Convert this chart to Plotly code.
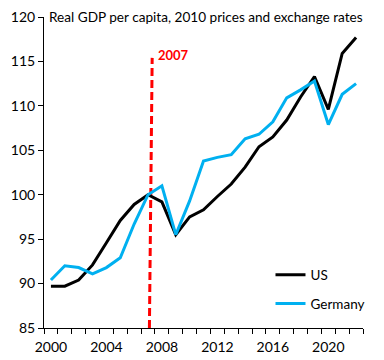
import plotly.graph_objects as go

years = list(range(2000, 2023))
us = [89.7, 89.7, 90.4, 92.1, 94.6, 97.1, 98.9, 100.0, 99.2, 95.5, 97.5, 98.3,
      99.8, 101.2, 103.1, 105.4, 106.5, 108.4, 111.0, 113.3, 109.6, 115.9, 117.7]
germany = [90.4, 92.0, 91.8, 91.1, 91.8, 92.9, 96.7, 100.0, 101.0, 95.5, 99.3, 103.8,
           104.2, 104.5, 106.3, 106.8, 108.2, 110.9, 111.8, 112.8, 107.9, 111.3, 112.5]
crisis_x = [2007.1, 2007.3]
crisis_y = [85, 115.4]
crisis_label = "2007"
xtick_vals = [2000, 2004, 2008, 2012, 2016, 2020]
ytick_vals = [85, 90, 95, 100, 105, 110, 115, 120]
title = "Real GDP per capita, 2010 prices and exchange rates"

FONT = "Lato, Carlito, 'Open Sans', sans-serif"

fig = go.Figure()
fig.add_trace(go.Scatter(x=crisis_x, y=crisis_y, mode="lines", showlegend=False,
                         line=dict(color="#FF0000", width=3, dash="8px,4px"),
                         hoverinfo="skip"))
fig.add_trace(go.Scatter(x=years, y=us, mode="lines", name="US", legendgroup="us",
                         line=dict(color="#000000", width=3)))
fig.add_trace(go.Scatter(x=years, y=germany, mode="lines", name="Germany", legendgroup="de",
                         line=dict(color="#00B0F0", width=3)))

fig.add_annotation(text=crisis_label, x=crisis_x[1], y=crisis_y[1], xref="x", yref="y",
                   xanchor="left", yanchor="middle", xshift=4, yshift=3, showarrow=False,
                   font=dict(family=FONT, size=13, color="#FF0000", weight="bold"))
fig.add_annotation(text=title, x=0, y=1, xref="paper", yref="paper", xanchor="left",
                   yanchor="middle", xshift=3, showarrow=False,
                   font=dict(family=FONT, size=13.6, color="#000000"))

fig.update_layout(
    template="none",
    width=376, height=352,
    margin=dict(l=36, r=21, t=9, b=32),
    paper_bgcolor="white", plot_bgcolor="white",
    font=dict(family=FONT, size=14, color="#000000"),
    legend=dict(x=0.71, y=0.22, xanchor="left", yanchor="top",
                font=dict(family=FONT, size=13.5, color="#000000"),
                tracegroupgap=8, bgcolor="rgba(0,0,0,0)"),
    xaxis=dict(range=[1999.5, 2022.5], tickvals=xtick_vals, ticks="", showgrid=False,
               showline=True, linecolor="#000000", linewidth=1, zeroline=False,
               automargin=False, tickfont=dict(size=14), ticklabelstandoff=6,
               ticklabeloverflow="allow",
               minor=dict(tick0=1999.5, dtick=1, ticks="outside", ticklen=5,
                          tickcolor="#000000", showgrid=False)),
    yaxis=dict(range=[85, 120], tickvals=ytick_vals, ticks="outside", ticklen=5,
               tickcolor="#000000", showgrid=False, showline=True, linecolor="#000000",
               linewidth=1, zeroline=False, automargin=False, tickfont=dict(size=14),
               ticklabeloverflow="allow"),
)

fig.write_html("out.html")
